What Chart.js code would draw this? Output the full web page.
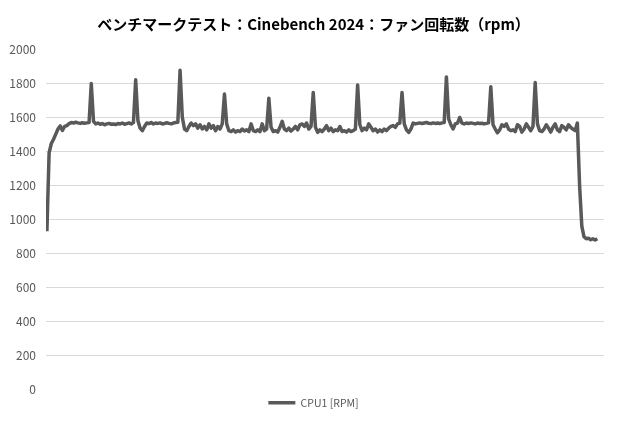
<!DOCTYPE html>
<html lang="ja">
<head>
<meta charset="utf-8">
<title>Cinebench 2024 fan speed</title>
<script src="https://cdn.jsdelivr.net/npm/chart.js@4/dist/chart.umd.min.js"></script>
<style>
  body { margin: 0; background: #fff; }
  canvas { display: block; }
</style>
</head>
<body>
<canvas id="myChart" width="620" height="430"></canvas>
<script>
'use strict';
const chartTitle = 'ベンチマークテスト：Cinebench 2024：ファン回転数（rpm）';
const seriesName = 'CPU1 [RPM]';
const yTicks = [0, 200, 400, 600, 800, 1000, 1200, 1400, 1600, 1800, 2000];

// fan speed, one sample every ~2.2 px
const rpm = [
  930, 1390, 1445, 1470, 1500, 1530, 1548, 1522, 1545, 1550, 1562,
  1568, 1565, 1570, 1566, 1563, 1567, 1564, 1566, 1568,
  1797, 1575,
  1560, 1565, 1558, 1562, 1555, 1560, 1563, 1558, 1560, 1556, 1562, 1560, 1565, 1558, 1562, 1566, 1560, 1568,
  1819, 1580, 1535, 1520, 1545,
  1565, 1562, 1568, 1560, 1565, 1563, 1566, 1560, 1562, 1567, 1563, 1560, 1565, 1568, 1570,
  1875,
  1600, 1530, 1520, 1545, 1565, 1550, 1560, 1535, 1555, 1530, 1545, 1525, 1560, 1535, 1550, 1520, 1545, 1530, 1560,
  1735,
  1560, 1520, 1515, 1525, 1512, 1520, 1515, 1530, 1518, 1525, 1515, 1560, 1520, 1515, 1525, 1515, 1560, 1520, 1530,
  1711,
  1540, 1515, 1520, 1512, 1540, 1575, 1530, 1520, 1535, 1518, 1530, 1545, 1525, 1555, 1560, 1545, 1565, 1530, 1545,
  1745,
  1540, 1510, 1525, 1515, 1530, 1550, 1520, 1535, 1515, 1525, 1520, 1545, 1515, 1520, 1512, 1525, 1515, 1520, 1530,
  1789,
  1555, 1520, 1535, 1525, 1560, 1540, 1520, 1530, 1512, 1525, 1515, 1530, 1520, 1535, 1545, 1550, 1540, 1560, 1565,
  1745,
  1560, 1525, 1510, 1530, 1565, 1560, 1563, 1566, 1562, 1565, 1568, 1564, 1562, 1566, 1563, 1565, 1562, 1566, 1568,
  1836,
  1590, 1555, 1530, 1560, 1565, 1598, 1565, 1560, 1565, 1562, 1566, 1563, 1560, 1565, 1562, 1564, 1560, 1563, 1566,
  1778,
  1555, 1530, 1508, 1525, 1555, 1545, 1560, 1530, 1520, 1525, 1515, 1555, 1545, 1512, 1530, 1560, 1540, 1520, 1545,
  1803,
  1560, 1520, 1515, 1530, 1555, 1535, 1512, 1540, 1560, 1525, 1515, 1550, 1540, 1525, 1555, 1540, 1530, 1520, 1565,
  1200, 960, 897, 885, 888, 880, 885, 878, 885
];
const samples = rpm.map((v, i) => i);

const fontFamily = '"Noto Sans CJK JP", "Noto Sans", sans-serif';
const textGray = '#595959';
const gridGray = '#d9d9d9';

const data = {
  labels: samples,
  datasets: [
    {
      label: seriesName,
      data: rpm,
      borderColor: '#595959',
      backgroundColor: '#595959',
      borderWidth: 3.5,
      pointRadius: 0,
      tension: 0,
      borderJoinStyle: 'round',
    },
  ],
};

const config = {
  type: 'line',
  data: data,
  options: {
    responsive: false,
    animation: false,
    layout: {
      padding: { left: 7, right: 0, top: 15, bottom: 12 },
    },
    plugins: {
      title: {
        display: true,
        text: chartTitle,
        color: '#000',
        font: { family: fontFamily, size: 15, weight: 'bold' },
        padding: { top: 0, bottom: 16 },
      },
      legend: {
        position: 'bottom',
        labels: {
          usePointStyle: true,
          pointStyle: 'line',
          pointStyleWidth: 27,
          padding: 8,
          color: textGray,
          font: { family: fontFamily, size: 10.5 },
        },
      },
      tooltip: { enabled: false },
    },
    scales: {
      x: {
        type: 'linear',
        display: false,
        min: -0.4,
        max: 251,
      },
      y: {
        min: 0,
        max: 2000,
        afterFit: function (scale) {
          scale.width = 39;
        },
        afterBuildTicks: function (scale) {
          scale.ticks = yTicks.map((v) => ({ value: v }));
        },
        border: { display: false },
        grid: {
          drawTicks: false,
          color: function (ctx) {
            if (ctx.tick && (ctx.tick.value === 0 || ctx.tick.value === 2000)) {
              return 'rgba(0,0,0,0)';
            }
            return gridGray;
          },
        },
        ticks: {
          padding: 10,
          color: textGray,
          font: { family: fontFamily, size: 12 },
          callback: function (value) {
            return String(value);
          },
        },
      },
      // empty right-hand axis, only keeps a margin right of the plot
      yRight: {
        position: 'right',
        grid: { display: false },
        border: { display: false },
        ticks: { display: false },
        afterFit: function (scale) {
          scale.width = 16;
        },
      },
    },
  },
};

let canvasChart = document.getElementById('myChart');
const myChart = new Chart(canvasChart, config);
</script>
</body>
</html>
